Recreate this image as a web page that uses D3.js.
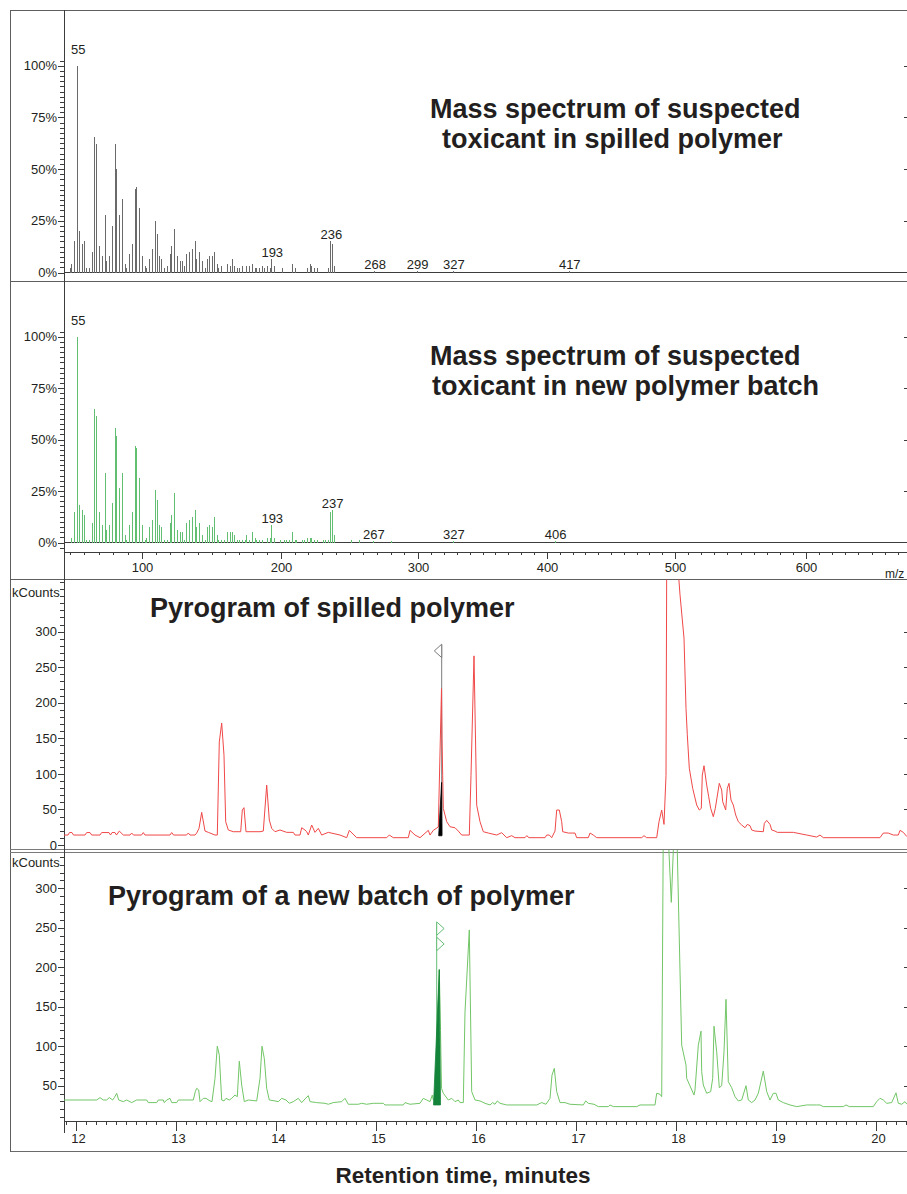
<!DOCTYPE html>
<html>
<head>
<meta charset="utf-8">
<script src="https://cdn.jsdelivr.net/npm/d3@7"></script>
<style>
  body { margin: 0; background: #fff; }
  svg { display: block; }
  text { font-family: "Liberation Sans", Arial, Helvetica, sans-serif; }
</style>
</head>
<body>
<svg id="chart" width="907" height="1194"></svg>
<script>
// ---------- data ----------
// mass spectra: [m/z, relative abundance %]
const spilledSpectrum = [
  [50,2],[51,4],[53,15],[55,100],[56,20],[58,14],[60,15],[61,2],[63,2],[65,10],[67,65.5],[68,62],
  [70,13],[72,8],[74,28],[75,5.5],[77,8],[79,22.5],[81,62],[82,50],[84,28],[86,35.5],[88,4],[89,2],
  [91,9],[93,14],[95,40.5],[96,41.5],[98,31],[100,8],[102,3],[103,2],[105,6.5],[107,11.5],[109,25],
  [111,18.5],[112,8],[114,6.5],[116,2],[118,3],[120,9],[121,13],[123,21],[125,8],[127,5.5],[129,5.5],
  [130,3],[132,9],[134,10],[136,11.5],[138,15],[139,6.5],[141,10],[143,5.5],[145,2],[147,6.5],[148,8],
  [150,8],[152,10],[154,4],[155,2],[157,3],[161,4],[163,3],[165,6.5],[166,3],[168,2],[170,2],[172,3],
  [175,3],[177,3],[179,4],[181,2],[182,2],[184,2],[186,3],[188,2],[190,3],[192,2],[193,6.5],[195,3],
  [201,2],[208,4],[210,2],[219,2],[221,4],[222,3],[224,2],[226,2],[234,2],[236,15],[237,14],[239,3],
  [268,0.6],[299,0.6],[327,0.6],[417,0.6]
];
const newSpectrum = [
  [51,2.3],[53,14.6],[55,100],[56,18],[58,15.7],[60,13.3],[61,1.3],[63,1.3],[65,9.7],[67,65],[68,61.4],
  [70,14.6],[72,8.4],[74,33.7],[75,6],[77,8.4],[79,19.3],[81,55.4],[82,51.9],[84,26.6],[86,33.7],[88,3.6],
  [89,1.3],[91,8.4],[93,14.6],[95,47],[96,45.9],[98,31.4],[100,8.4],[102,1.3],[103,2.3],[105,7.3],
  [107,10.9],[109,25.4],[111,20.6],[112,8.4],[114,7.3],[116,1.3],[118,1.3],[120,9.7],[121,13.3],[123,24.1],
  [125,6],[127,4.9],[129,4.9],[130,1.3],[132,9.7],[134,10.9],[136,12.2],[138,15.7],[139,7.3],[141,9.7],
  [143,3.6],[145,1.3],[147,7.3],[148,8.4],[150,7.3],[152,12.2],[154,3.6],[155,1.3],[157,1.3],[159,1.3],
  [161,4.9],[163,4.9],[165,4.9],[166,3.6],[168,1.3],[170,1.3],[172,1.3],[174,1.3],[175,3.6],[177,1.3],
  [179,4.9],[181,2.3],[182,1.3],[184,1.3],[186,1.3],[190,2.3],[192,2.3],[193,8.4],[195,2.3],[199,1.3],
  [202,1.3],[204,1.3],[206,1.3],[208,4.9],[210,1.3],[211,1.3],[215,1.3],[217,1.3],[219,2.3],[221,2.3],
  [222,2.3],[224,1.3],[226,1.3],[231,1.3],[232,1.3],[234,1.3],[236,14.6],[237,15.7],[239,3.6],
  [251,1.3],[257,1.3],[267,0.8],[280,0.8],[327,0.6],[406,0.6]
];
// annotated m/z values
const spilledLabels = [55, 193, 236, 268, 299, 327, 417];
const newLabels = [55, 193, 237, 267, 327, 406];

// pyrograms: [retention time (min), kCounts]
const spilledTrace = [
  [11.88,14],[11.92,14],[11.935,17.5],[11.96,17.5],[11.975,14],[12.09,14],[12.107,17.5],[12.14,17.5],
  [12.157,14],[12.24,14],[12.257,17.5],[12.33,17.5],[12.345,14],[12.36,17.5],[12.39,17.5],[12.405,14],
  [12.433,19.6],[12.473,14],[12.54,14],[12.557,16.8],[12.575,14],[12.655,14],[12.673,17.5],[12.69,14],
  [12.94,14],[12.957,17.5],[12.975,14],[13.105,14],[13.123,16.8],[13.14,14],[13.19,14],[13.207,16.8],
  [13.23,23.4],[13.257,45.9],[13.29,19.6],[13.323,17.8],[13.39,14],[13.413,14],[13.433,145],[13.457,171.5],
  [13.48,126],[13.497,32.8],[13.523,21.1],[13.573,18.7],[13.647,18.7],[13.663,49.2],[13.68,52.5],[13.7,18.7],
  [13.84,18.7],[13.873,19.6],[13.907,84.3],[13.933,35.1],[13.957,23.4],[13.99,18.7],[14.04,21.1],[14.107,17.8],
  [14.173,17.8],[14.19,14],[14.24,14],[14.257,24.3],[14.29,21],[14.307,18.7],[14.323,14],[14.357,28.1],
  [14.39,17.8],[14.423,23.4],[14.457,14],[14.523,17.8],[14.64,14],[14.707,10.3],[14.733,20.6],[14.807,10.3],
  [15.107,10.3],[15.133,14],[15.173,10.3],[15.323,10.3],[15.34,20.6],[15.39,14],[15.44,10.3],[15.523,20.6],
  [15.54,14],[15.573,20.6],[15.623,25.3],[15.655,220],[15.66,150],[15.667,98],[15.673,51.5],[15.707,32.8],
  [15.74,25.7],[15.79,24.3],[15.823,19.6],[15.857,14],[15.933,14],[15.95,98],[15.98,266],[16.007,56],
  [16.04,32.8],[16.073,18.7],[16.123,16.8],[16.207,14],[16.257,17.3],[16.307,10.3],[16.357,13.1],[16.39,10.3],
  [16.49,10.3],[16.507,13.1],[16.53,10.3],[16.69,10.3],[16.707,14],[16.733,14],[16.757,10.3],[16.79,19.6],
  [16.807,49.2],[16.833,49.2],[16.857,32.8],[16.867,18.7],[16.923,16.8],[16.99,16.8],[17.007,10.3],
  [17.123,10.3],[17.14,16.8],[17.173,14],[17.207,10.3],[17.657,10.3],[17.68,13.1],[17.707,10.3],[17.807,10.3],
  [17.83,32.8],[17.857,49.2],[17.88,29],[17.9,98],[17.907,390],[17.96,520],[18.02,390],[18.04,352],
  [18.08,291],[18.1,192],[18.113,155],[18.133,108],[18.167,79.7],[18.207,56.2],[18.233,49.2],[18.253,51.5],
  [18.263,98.4],[18.28,111.5],[18.307,84.3],[18.327,67.9],[18.347,51.5],[18.373,39.8],[18.393,51.5],
  [18.433,86.7],[18.457,77.3],[18.467,60.9],[18.497,49.2],[18.513,79.7],[18.53,86.7],[18.55,63.3],
  [18.573,56.2],[18.597,42.2],[18.623,32.8],[18.657,28.1],[18.69,24.3],[18.713,29],[18.74,27.2],
  [18.757,21.1],[18.79,19.6],[18.873,18.7],[18.883,30.4],[18.907,34.6],[18.94,29],[18.957,21.1],
  [18.99,19.6],[19.013,17.8],[19.173,17.8],[19.307,14],[19.407,11.2],[19.44,14],[19.473,10.3],[20.04,10.3],
  [20.073,16.8],[20.123,16.8],[20.173,14],[20.223,14],[20.24,20.6],[20.273,17.8],[20.31,11.7]
];
const newTrace = [
  [11.88,31.9],[12.207,31.9],[12.24,34.9],[12.273,31.9],[12.307,31.9],[12.333,34.9],[12.367,31.9],
  [12.383,34.9],[12.407,40.4],[12.427,31.9],[12.473,29.8],[12.507,31.9],[12.557,28.6],[12.607,31.9],
  [12.707,31.9],[12.723,28.6],[12.807,28.6],[12.823,31.9],[12.873,31.9],[12.883,28.6],[12.907,31.9],
  [12.94,34],[12.957,28.6],[13.007,28.6],[13.023,31.9],[13.173,31.9],[13.193,42.5],[13.207,46.7],
  [13.227,44.6],[13.24,29.8],[13.273,34],[13.3,34],[13.34,30.7],[13.36,29.8],[13.39,59.3],[13.413,100],
  [13.433,88.7],[13.457,31.9],[13.48,30.7],[13.5,34],[13.533,31.9],[13.557,34],[13.59,38.2],[13.613,36.1],
  [13.633,81],[13.657,50.9],[13.683,29.8],[13.723,31.9],[13.807,30.7],[13.84,59.3],[13.86,100],[13.883,84.5],
  [13.907,46.7],[13.933,31.9],[13.99,30.7],[14.023,29.8],[14.057,34],[14.1,31.9],[14.133,27.7],[14.173,29.8],
  [14.223,34],[14.257,28.6],[14.29,33.2],[14.323,37.4],[14.34,29.8],[14.407,28.6],[14.49,27.7],[14.523,26.5],
  [14.573,28.6],[14.657,29.8],[14.69,34],[14.723,26.5],[14.79,26.5],[14.823,26.5],[14.857,27.7],[14.907,26.5],
  [14.973,27.7],[15.073,27.7],[15.09,25.6],[15.14,25.6],[15.273,25.6],[15.29,28.6],[15.34,26.5],[15.44,27.7],
  [15.473,34],[15.507,31.9],[15.54,29.8],[15.563,38.2],[15.573,31.9],[15.59,29.8],[15.633,197],[15.645,120],
  [15.655,46.7],[15.673,40.4],[15.723,31.9],[15.757,34],[15.79,29.8],[15.823,31.9],[15.84,28.6],[15.873,28.6],
  [15.89,143.4],[15.933,247.3],[15.957,42.5],[15.99,31.9],[16.04,30.7],[16.09,27.7],[16.14,25.6],[16.167,28.6],
  [16.19,26.5],[16.213,30.7],[16.24,27.7],[16.307,25.6],[16.607,25.6],[16.657,28.6],[16.7,26.5],[16.74,34],
  [16.76,63.5],[16.783,71.9],[16.807,42.5],[16.84,28.6],[16.89,28.6],[16.94,26.5],[17.073,25.6],[17.097,30.7],
  [17.123,27.7],[17.18,26.5],[17.223,23.5],[17.323,23.5],[17.34,25.6],[17.373,23.5],[17.607,23.5],[17.64,25.6],
  [17.79,25.6],[17.807,40.4],[17.84,39.1],[17.857,36.1],[17.873,380],[17.895,450],[17.917,380],[17.953,282.2],
  [17.983,380],[17.995,450],[18.007,380],[18.057,101.3],[18.1,76.1],[18.107,59.3],[18.18,38.2],[18.19,44.6],
  [18.223,101.3],[18.25,119],[18.257,67.7],[18.273,50.9],[18.307,40.4],[18.347,42.5],[18.367,59.3],
  [18.38,125.3],[18.407,92.9],[18.433,47.5],[18.457,50],[18.48,92.9],[18.5,159.4],[18.523,55.1],[18.557,47.5],
  [18.59,36.1],[18.623,30.7],[18.657,31.9],[18.7,50],[18.723,31.9],[18.757,28.6],[18.79,31.9],[18.823,40.4],
  [18.873,68.5],[18.907,42.5],[18.94,31.9],[18.973,40.4],[19.0,40.4],[19.023,31.9],[19.073,28.6],[19.14,25.6],
  [19.207,23.5],[19.307,25.6],[19.407,25.6],[19.44,25.6],[19.473,23.5],[19.673,23.5],[19.7,25.6],[19.733,23.5],
  [19.973,23.5],[20.007,29.8],[20.04,34],[20.073,31.9],[20.107,27.7],[20.157,28.6],[20.2,41],[20.223,27.7],
  [20.257,26.5],[20.29,29.8],[20.31,26.5]
];
// integrated (shaded) peak regions
const spilledPeakFill = [[15.627,13],[15.656,88],[15.66,13]];
const newPeakFill = [[15.575,25.6],[15.633,197],[15.645,25.6]];
// peak markers: time, line top, flag centres, line bottom (kCounts)
const spilledMarker = { t: 15.657, top: 282, flags: [273], base: 14 };
const newMarker = { t: 15.607, top: 256, flags: [249, 229.5], base: 25.6 };

// axis ticks
const pctTicks = [0, 25, 50, 75, 100];
const mzTicks = [100, 200, 300, 400, 500, 600];
const countTicks = [0, 50, 100, 150, 200, 250, 300];
const timeTicks = [12, 13, 14, 15, 16, 17, 18, 19, 20];

// ---------- layout ----------
const svg = d3.select('#chart');
const AX = 64;          // shared vertical axis
const RIGHT = 907;
const INK = '#231f20';
const AXIS = '#3c3c3c';

// m/z axis is calibrated piecewise to the instrument's display
const xMz = d3.scaleLinear()
  .domain([50, 100, 200, 300, 400, 500, 600])
  .range([70, 142, 281, 418, 547, 675, 806]);
const xT = d3.scaleLinear().domain([12, 20]).range([76, 876]);
const yMs1 = d3.scaleLinear().domain([0, 100]).range([272.5, 65.8]);
const yMs2 = d3.scaleLinear().domain([0, 100]).range([542.5, 336.7]);
const yPy1 = d3.scaleLinear().domain([0, 300]).range([845, 631.7]);
const yPy2 = d3.scaleLinear().domain([50, 300]).range([1085.7, 888.3]);

const defs = svg.append('defs');
defs.append('clipPath').attr('id', 'clipPy1')
  .append('rect').attr('x', AX).attr('y', 579.5).attr('width', RIGHT - AX).attr('height', 269.5);
defs.append('clipPath').attr('id', 'clipPy2')
  .append('rect').attr('x', AX).attr('y', 850).attr('width', RIGHT - AX).attr('height', 271);

// ---------- frame and panel separators ----------
const frame = svg.append('g').attr('fill', 'none').attr('shape-rendering', 'crispEdges');
function hline(g, y, x1, x2, color) {
  g.append('line').attr('x1', x1).attr('x2', x2).attr('y1', y).attr('y2', y)
    .attr('stroke', color).attr('stroke-width', 1);
}
hline(frame, 10.5, 10, RIGHT, '#5e5e5e');
hline(frame, 1151.5, 10, RIGHT, '#6a6a6a');
frame.append('line').attr('x1', 10.5).attr('x2', 10.5).attr('y1', 10).attr('y2', 1152)
  .attr('stroke', '#5e5e5e');
hline(frame, 281.5, 10, RIGHT, '#5e5e5e');
hline(frame, 579.5, 10, RIGHT, '#5e5e5e');
hline(frame, 849.5, 10, RIGHT, '#7a7a7a');
hline(frame, 852.5, 10, RIGHT, '#7a7a7a');

// ---------- axes ----------
function styleAxis(g, size) {
  g.selectAll('.domain').remove();
  g.selectAll('line').attr('stroke', AXIS).attr('shape-rendering', 'crispEdges');
  g.selectAll('text').attr('fill', INK).style('font-size', (size || 13) + 'px');
}
function leftAxis(scale, minor, major, fmt) {
  const g = svg.append('g').attr('transform', `translate(${AX},0)`);
  g.append('g').call(d3.axisLeft(scale).tickValues(minor).tickSize(4).tickFormat(''));
  g.append('g').call(d3.axisLeft(scale).tickValues(major).tickSize(6).tickPadding(1).tickFormat(fmt));
  styleAxis(g);
  // matching short ticks on the right edge
  const r = svg.append('g').attr('transform', `translate(${RIGHT},0)`);
  r.call(d3.axisLeft(scale).tickValues(major.filter(v => v > 0)).tickSize(3).tickFormat(''));
  styleAxis(r);
}
const pctMinor = d3.range(0, 42).map(i => i * 2.5);
leftAxis(yMs1, pctMinor, pctTicks, d => d + '%');
leftAxis(yMs2, [-2.5].concat(pctMinor), pctTicks, d => d + '%');
leftAxis(yPy1, d3.range(0, 38).map(i => i * 10), countTicks, d => d);
leftAxis(yPy2, d3.range(1, 35).map(i => i * 10), countTicks.filter(v => v > 0), d => d);

// main vertical axis line
svg.append('line').attr('x1', AX + 0.5).attr('x2', AX + 0.5).attr('y1', 10).attr('y2', 1133)
  .attr('stroke', AXIS).attr('shape-rendering', 'crispEdges');

// spectrum baselines and the m/z axis
const base = svg.append('g');
hline(base, Math.round(yMs1(0)) - 0.5, AX, RIGHT, AXIS);
hline(base, Math.round(yMs2(0)) - 0.5, AX, RIGHT, AXIS);
hline(base, 552.5, AX, RIGHT, AXIS);
base.attr('shape-rendering', 'crispEdges');

const mzAxis = svg.append('g').attr('transform', 'translate(0,552)');
mzAxis.append('g').call(d3.axisBottom(xMz).tickValues(d3.range(5, 68).map(i => i * 10)).tickSize(3).tickFormat(''));
mzAxis.append('g').call(d3.axisBottom(xMz).tickValues(mzTicks).tickSize(7).tickPadding(4).tickFormat(d => d));
styleAxis(mzAxis);
svg.append('text').attr('x', 885).attr('y', 578).attr('fill', INK).style('font-size', '12px').text('m/z');

// retention-time axis
hline(svg.append('g').attr('shape-rendering', 'crispEdges'), 1121.5, AX, RIGHT, AXIS);
const tAxis = svg.append('g').attr('transform', 'translate(0,1121)');
tAxis.append('g').call(d3.axisBottom(xT).tickValues(d3.range(119, 204).map(i => i / 10)).tickSize(4).tickFormat(''));
tAxis.append('g').call(d3.axisBottom(xT).tickValues(timeTicks).tickSize(10).tickPadding(3).tickFormat(d => d));
styleAxis(tAxis);
tAxis.selectAll('text').attr('dx', 2);

// y-axis unit labels
svg.append('text').attr('x', 12).attr('y', 597).attr('fill', INK).style('font-size', '13px').text('kCounts');
svg.append('text').attr('x', 12).attr('y', 867).attr('fill', INK).style('font-size', '13px').text('kCounts');

// ---------- mass spectra ----------
function drawSpectrum(data, labels, y, color) {
  svg.append('g').attr('shape-rendering', 'crispEdges')
    .selectAll('line').data(data).join('line')
    .attr('x1', d => Math.round(xMz(d[0])) + 0.5)
    .attr('x2', d => Math.round(xMz(d[0])) + 0.5)
    .attr('y1', y(0))
    .attr('y2', d => y(d[1]))
    .attr('stroke', color).attr('stroke-width', 1);
  const lookup = new Map(data);
  svg.append('g').selectAll('text').data(labels).join('text')
    .attr('x', d => xMz(d) + 1)
    // label sits just above its bar; the base peak's label gets extra room
    .attr('y', d => {
      const v = lookup.get(d) || 0;
      return y(v) - (v >= 100 ? 12 : 2);
    })
    .attr('text-anchor', 'middle')
    .attr('fill', INK).style('font-size', '13px')
    .text(d => d);
}
drawSpectrum(spilledSpectrum, spilledLabels, yMs1, '#6a6a6a');
drawSpectrum(newSpectrum, newLabels, yMs2, '#62bf72');

// ---------- pyrograms ----------
function drawMarker(g, m, y, dir, color) {
  const x = xT(m.t);
  g.append('line').attr('x1', x).attr('x2', x).attr('y1', y(m.top)).attr('y2', y(m.base))
    .attr('stroke', color).attr('stroke-width', 1);
  m.flags.forEach(v => {
    const cy = y(v);
    g.append('path')
      .attr('d', `M${x},${cy - 6.7}L${x + dir * 7.4},${cy}L${x},${cy + 6.7}Z`)
      .attr('fill', '#fff').attr('stroke', color).attr('stroke-width', 1);
  });
}
function drawPyrogram(trace, fill, marker, y, clipId, lineColor, fillColor, markerColor, dir) {
  const g = svg.append('g').attr('clip-path', `url(#${clipId})`);
  drawMarker(g, marker, y, dir, markerColor);
  const line = d3.line().x(d => xT(d[0])).y(d => y(d[1]));
  g.append('path').datum(trace).attr('d', line)
    .attr('fill', 'none').attr('stroke', lineColor).attr('stroke-width', 1)
    .attr('stroke-linejoin', 'round');
  g.append('path').datum(fill).attr('d', d => line(d) + 'Z')
    .attr('fill', fillColor).attr('stroke', fillColor).attr('stroke-width', 0.8);
  return g;
}
drawPyrogram(spilledTrace, spilledPeakFill, spilledMarker, yPy1, 'clipPy1', '#f04848', '#000', '#7a7a7a', -1);
drawPyrogram(newTrace, newPeakFill, newMarker, yPy2, 'clipPy2', '#72c667', '#14843a', '#64bd76', 1);

// ---------- titles ----------
const titles = [
  ['Mass spectrum of suspected', 430, 118],
  ['toxicant in spilled polymer', 442, 148],
  ['Mass spectrum of suspected', 430, 365],
  ['toxicant in new polymer batch', 432, 395],
  ['Pyrogram of spilled polymer', 150, 617],
  ['Pyrogram of a new batch of polymer', 108, 905]
];
svg.append('g').selectAll('text').data(titles).join('text')
  .attr('x', d => d[1]).attr('y', d => d[2])
  .attr('fill', INK).style('font-size', '27px').style('font-weight', 'bold')
  .text(d => d[0]);

svg.append('text').attr('x', 463).attr('y', 1183).attr('text-anchor', 'middle')
  .attr('fill', INK).style('font-size', '22.5px').style('font-weight', 'bold')
  .text('Retention time, minutes');
</script>
</body>
</html>
